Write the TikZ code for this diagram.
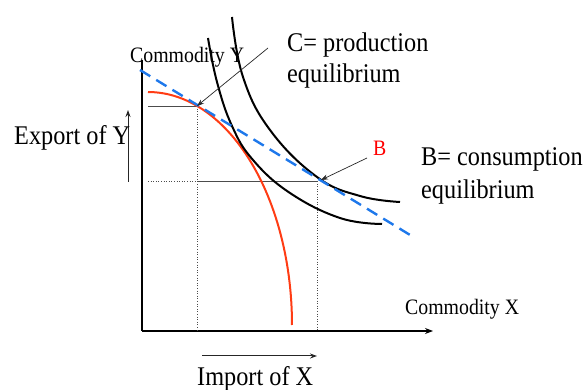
\documentclass[tikz,border=0pt]{standalone}
\usepackage{fontspec}
\setmainfont{Liberation Serif}
\usetikzlibrary{arrows.meta}
\definecolor{ppfred}{RGB}{255,60,20}
\definecolor{lineblue}{RGB}{30,120,235}
\newcommand{\narrow}[1]{\scalebox{0.9}[1]{#1}}
\tikzset{
  lbl/.style={font=\fontsize{27}{31}\selectfont, inner sep=0pt, anchor=base west},
  small lbl/.style={font=\fontsize{22}{26}\selectfont, inner sep=0pt, anchor=base west},
  ic/.style={line width=2pt, black},
  guide/.style={black!70, line width=0.6pt},
  pointer/.style={-{Stealth[length=7pt,width=5pt]}, line width=0.7pt, black!85},
}
\begin{document}
\begin{tikzpicture}[x=1pt,y=-1pt]
\useasboundingbox (0,0) rectangle (587,390);
% axes
\coordinate (O) at (142,331);
\coordinate (yTop) at (142,60);
\coordinate (xEnd) at (433,331);
\draw[line width=1.2pt] (yTop) -- (O);
\draw[line width=1.2pt, -{Stealth[length=8pt,width=6pt]}] (O) -- (xEnd);
% equilibrium points
\coordinate (C) at (197,106);
\coordinate (B) at (317,181);
\coordinate (Cy) at (148,106);
\coordinate (Cx) at (197,331);
\coordinate (By) at (148,181);
\coordinate (Bm) at (197,181);
\coordinate (Bx) at (317,331);
% guide lines
\draw[guide] (Cy) -- (C);
\draw[guide, dotted] (C) -- (Cx);
\draw[guide, dotted] (By) -- (Bm);
\draw[guide] (Bm) -- (B);
\draw[guide, dotted] (B) -- (Bx);
% production possibility curve
\draw[ppfred, line width=2pt] plot[domain=0:90, samples=60] ({148+144*cos(\x)}, {325-233*sin(\x)});
% indifference curves
\draw[ic] plot[smooth, tension=0.7] coordinates {(208,38) (217,82) (232,126) (253,160) (290,193) (340,218) (382,224)};
\draw[ic] plot[smooth, tension=0.7] coordinates {(232,17) (243,77) (270,130) (317,177) (360,196) (400,202)};
% price line
\coordinate (pStart) at (140,70);
\coordinate (pEnd) at (415,238);
\draw[lineblue, line width=2.4pt, dash pattern=on 12pt off 7pt] (pStart) -- (pEnd);
% pointers
\coordinate (cTail) at (268,48);
\coordinate (bTail) at (367,158);
\coordinate (bTip) at (321,180);
\draw[pointer] (cTail) -- (C);
\draw[pointer] (bTail) -- (bTip);
% trade arrows
\coordinate (expLow) at (128,182);
\coordinate (expHigh) at (128,110);
\coordinate (impLeft) at (202,356);
\coordinate (impRight) at (317,356);
\draw[pointer, line width=1pt] (expLow) -- (expHigh);
\draw[pointer, line width=1pt] (impLeft) -- (impRight);
% labels
\node[small lbl] (comY) at (130,63) {\narrow{Commodity Y}};
\node[small lbl] (comX) at (405,315) {\narrow{Commodity X}};
\node[lbl] (expY) at (14,145) {\narrow{Export of Y}};
\node[lbl] (impX) at (197,385) {\narrow{Import of X}};
\node[lbl] (cLab) at (287,52) {\narrow{C= production}};
\node[lbl] (cLab2) at (287,83) {\narrow{equilibrium}};
\node[lbl] (bLab) at (421,166) {\narrow{B= consumption}};
\node[lbl] (bLab2) at (421,199) {\narrow{equilibrium}};
\node[small lbl, red] (bPt) at (373,156) {\narrow{B}};
\end{tikzpicture}
\end{document}
